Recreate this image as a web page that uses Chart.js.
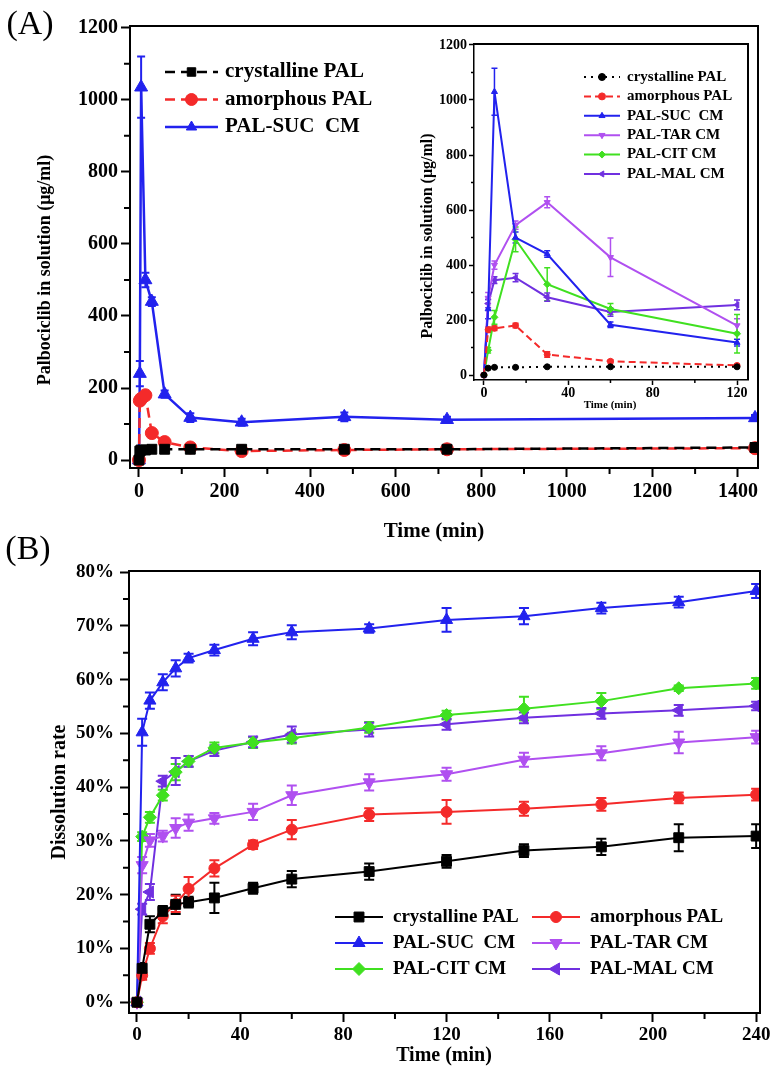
<!DOCTYPE html>
<html>
<head>
<meta charset="utf-8">
<script src="https://cdn.jsdelivr.net/npm/chart.js@4.4.0/dist/chart.umd.min.js"></script>
<style>
  html, body { margin: 0; padding: 0; background: #fff; }
  #wrap { position: relative; width: 774px; height: 1072px; overflow: hidden; }
  canvas { position: absolute; }
</style>
</head>
<body>
<div id="wrap">
  <canvas id="chartA" width="774" height="545" style="left:0;top:0"></canvas>
  <canvas id="inset" width="362" height="400" style="left:395px;top:20px"></canvas>
  <canvas id="chartB" width="774" height="552" style="left:0;top:520px"></canvas>
</div>
<script>
// ---- panel A, long run (ug/ml)
const timeA   = [0, 2, 5, 15, 30, 60, 120, 240, 480, 720, 1440];
const crystA  = [0, 25, 28, 28, 30, 30, 30, 30, 30, 30, 35];
const amorphA = [0, 165, 170, 180, 75, 50, 35, 25, 28, 30, 33];
const sucA    = [0, 240, 1035, 500, 440, 183, 118, 105, 120, 112, 117];
const crystAErr  = [0, 3, 3, 3, 3, 3, 3, 3, 3, 3, 3];
const amorphAErr = [0, 10, 8, 8, 8, 6, 5, 4, 4, 4, 4];
const sucAErr    = [0, 35, 85, 20, 12, 10, 12, 10, 12, 8, 8];
const ticksAx = [0, 200, 400, 600, 800, 1000, 1200, 1400];
const ticksAy = [0, 200, 400, 600, 800, 1000, 1200];

// ---- panel A inset, first 2 h
const timeIn   = [0, 2, 5, 15, 30, 60, 120];
const crystIn  = [0, 25, 28, 28, 30, 30, 30];
const amorphIn = [0, 165, 170, 180, 75, 50, 35];
const sucIn    = [0, 240, 1030, 500, 440, 183, 118];
const tarIn    = [0, 280, 400, 545, 628, 428, 180];
const citIn    = [0, 90, 210, 493, 330, 240, 150];
const malIn    = [0, 260, 345, 354, 283, 229, 255];
const crystInErr  = [0, 2, 2, 2, 2, 2, 2];
const amorphInErr = [0, 10, 8, 8, 10, 6, 4];
const sucInErr    = [0, 35, 85, 20, 12, 10, 12];
const tarInErr    = [0, 20, 15, 15, 20, 70, 25];
const citInErr    = [0, 10, 25, 45, 60, 20, 70];
const malInErr    = [0, 15, 12, 15, 15, 15, 18];
const ticksInX = [0, 40, 80, 120];
const ticksInY = [0, 200, 400, 600, 800, 1000, 1200];

// ---- panel B, dissolution rate (%)
const timeB   = [0, 2, 5, 10, 15, 20, 30, 45, 60, 90, 120, 150, 180, 210, 240];
const crystB  = [0, 6.3, 14.5, 16.9, 18.2, 18.6, 19.4, 21.2, 22.9, 24.3, 26.2, 28.2, 28.9, 30.6, 30.9];
const amorphB = [0, 5, 10, 16, 18.3, 21.1, 24.9, 29.3, 32.1, 34.9, 35.4, 36, 36.8, 38, 38.6];
const sucB    = [0, 50.2, 56.1, 59.5, 62.1, 64, 65.5, 67.6, 68.8, 69.5, 71.1, 71.8, 73.3, 74.4, 76.5];
const tarB    = [0, 25.5, 30.1, 30.9, 32.4, 33.4, 34.2, 35.4, 38.5, 40.9, 42.4, 45.1, 46.3, 48.3, 49.3];
const citB    = [0, 30.8, 34.4, 38.5, 42.8, 44.8, 47.3, 48.3, 49.1, 51.1, 53.4, 54.6, 56, 58.4, 59.3];
const malB    = [0, 17.3, 20.5, 41.1, 42.9, 44.8, 46.8, 48.4, 49.8, 50.7, 51.7, 52.9, 53.7, 54.3, 55.1];
const crystBErr  = [0, 1, 1.5, 1, 1.8, 1, 2.8, 1, 1.5, 1.5, 1.2, 1.2, 1.5, 2.5, 2.2];
const amorphBErr = [0, 0.8, 1, 1.3, 1.5, 2.2, 1.5, 0.8, 1.8, 1.2, 2.2, 1.3, 1.2, 1, 1.1];
const sucBErr    = [0, 2.5, 1.5, 1.5, 1.5, 0.8, 1, 1.2, 1.3, 0.8, 2.2, 1.5, 1, 1, 1.3];
const tarBErr    = [0, 1.5, 1.2, 1, 1.8, 1.5, 1, 1.5, 1.8, 1.5, 1.2, 1.3, 1.3, 2, 1.2];
const citBErr    = [0, 0.8, 1, 1, 1.5, 1, 1, 1, 1, 1, 0.8, 2.2, 1.5, 0.5, 1];
const malBErr    = [0, 1, 1.5, 1, 2.5, 1, 1, 1, 1.5, 1.3, 1, 1, 1, 1, 0.8];
const ticksBx = [0, 40, 80, 120, 160, 200, 240];
const ticksBy = [0, 10, 20, 30, 40, 50, 60, 70, 80];

const BLACK = '#000000', RED = '#f42a2a', BLUE = '#2222ee',
      VIOLET = '#b050f0', GREEN = '#40e020', PURPLE = '#7030e0';
const FONT = 'Liberation Serif';

Chart.defaults.font.family = FONT;
Chart.defaults.font.weight = 'bold';
Chart.defaults.color = '#000';

function series(label, xs, ys, errs, color, style, extra) {
  return Object.assign({
    label: label,
    data: xs.map((x, i) => ({ x: x, y: ys[i] })),
    errors: errs,
    borderColor: color, backgroundColor: color,
    pointBackgroundColor: color, pointBorderColor: color, pointBorderWidth: 1,
    pointStyle: style, showLine: true, fill: false, tension: 0
  }, extra);
}

// error bars, drawn under the markers
const errorBars = {
  id: 'errorBars',
  beforeDatasetsDraw(chart, args, o) {
    const { ctx, chartArea: a } = chart;
    const xs = chart.scales.x, ys = chart.scales.y;
    ctx.save();
    ctx.beginPath();
    ctx.rect(a.left, a.top, a.right - a.left, a.bottom - a.top);
    ctx.clip();
    chart.data.datasets.forEach(ds => {
      if (!ds.errors) return;
      ctx.strokeStyle = ds.borderColor;
      ctx.lineWidth = o.width;
      ctx.setLineDash([]);
      ds.data.forEach((p, i) => {
        const e = ds.errors[i];
        if (!e) return;
        const x = xs.getPixelForValue(p.x);
        const y1 = ys.getPixelForValue(p.y - e), y2 = ys.getPixelForValue(p.y + e);
        ctx.beginPath();
        ctx.moveTo(x, y1); ctx.lineTo(x, y2);
        ctx.moveTo(x - o.cap, y1); ctx.lineTo(x + o.cap, y1);
        ctx.moveTo(x - o.cap, y2); ctx.lineTo(x + o.cap, y2);
        ctx.stroke();
      });
    });
    ctx.restore();
  }
};

// top/right frame lines and minor ticks
const frame = {
  id: 'frame',
  afterDraw(chart, args, o) {
    const { ctx, chartArea: a } = chart;
    const xs = chart.scales.x, ys = chart.scales.y;
    ctx.save();
    ctx.strokeStyle = '#000';
    ctx.lineWidth = o.width;
    ctx.beginPath();
    ctx.moveTo(a.left, a.top); ctx.lineTo(a.right, a.top); ctx.lineTo(a.right, a.bottom);
    ctx.stroke();
    ctx.lineWidth = o.tickWidth;
    ctx.beginPath();
    for (let v = Math.ceil(xs.min / o.xMinor) * o.xMinor; v <= xs.max; v += o.xMinor) {
      if (Math.abs(v % o.xMajor) < 1e-6) continue;
      const x = xs.getPixelForValue(v);
      ctx.moveTo(x, a.bottom); ctx.lineTo(x, a.bottom + o.len);
    }
    for (let v = Math.ceil(ys.min / o.yMinor) * o.yMinor; v <= ys.max; v += o.yMinor) {
      if (Math.abs(v % o.yMajor) < 1e-6) continue;
      const y = ys.getPixelForValue(v);
      ctx.moveTo(a.left, y); ctx.lineTo(a.left - o.len, y);
    }
    ctx.stroke();
    ctx.restore();
  }
};

// legend drawn inside the plot
const legendBox = {
  id: 'legendBox',
  afterDraw(chart, args, o) {
    const ctx = chart.ctx;
    ctx.save();
    ctx.font = o.font;
    ctx.textBaseline = 'middle';
    ctx.textAlign = 'left';
    chart.data.datasets.forEach((ds, i) => {
      const col = i % o.cols, row = Math.floor(i / o.cols);
      const x = o.x + col * o.colGap, y = o.y + row * o.rowGap;
      ctx.strokeStyle = ds.borderColor;
      ctx.fillStyle = ds.borderColor;
      ctx.lineWidth = ds.borderWidth;
      ctx.setLineDash(ds.borderDash || []);
      ctx.beginPath(); ctx.moveTo(x, y); ctx.lineTo(x + o.len, y); ctx.stroke();
      ctx.setLineDash([]);
      ctx.lineWidth = 1;
      Chart.helpers.drawPoint(ctx, {
        pointStyle: ds.pointStyle, rotation: ds.pointRotation || 0,
        radius: o.radius || ds.pointRadius, borderWidth: 1
      }, x + o.len / 2, y);
      ctx.fillStyle = '#000';
      ctx.fillText(ds.label, x + o.len + o.gap, y);
    });
    ctx.restore();
  }
};

// free texts: panel letters, axis titles
const texts = {
  id: 'texts',
  afterDraw(chart, args, o) {
    const ctx = chart.ctx;
    o.items.forEach(t => {
      ctx.save();
      ctx.font = t.font;
      ctx.fillStyle = '#000';
      ctx.textAlign = 'center';
      ctx.textBaseline = 'middle';
      ctx.translate(t.x, t.y);
      if (t.rot) ctx.rotate(t.rot * Math.PI / 180);
      ctx.fillText(t.text, 0, 0);
      ctx.restore();
    });
  }
};

function linAxis(min, max, tickVals, size, fontSize, pad, tickLen, lw, fmt) {
  return {
    type: 'linear', min: min, max: max,
    afterBuildTicks: s => { s.ticks = tickVals.map(v => ({ value: v })); },
    afterFit: s => {
      if (s.isHorizontal()) s.height = size; else s.width = size;
      s.paddingLeft = s.paddingRight = s.paddingTop = s.paddingBottom = 0;
    },
    ticks: {
      font: { size: fontSize, weight: 'bold', family: FONT }, color: '#000',
      padding: pad, autoSkip: false, maxRotation: 0,
      callback: v => fmt ? fmt(v) : String(v)
    },
    grid: { drawOnChartArea: false, drawTicks: true, tickLength: tickLen, tickWidth: lw, tickColor: '#000' },
    border: { display: true, color: '#000', width: lw }
  };
}

// ---------------- panel A main
new Chart(document.getElementById('chartA'), {
  type: 'line',
  data: {
    datasets: [
      series('crystalline PAL', timeA, crystA, crystAErr, BLACK, 'rect', { borderWidth: 2.5, borderDash: [10, 6], pointRadius: 7 }),
      series('amorphous PAL', timeA, amorphA, amorphAErr, RED, 'circle', { borderWidth: 2.5, borderDash: [10, 6], pointRadius: 6.5 }),
      series('PAL-SUC  CM', timeA, sucA, sucAErr, BLUE, 'triangle', { borderWidth: 2.5, pointRadius: 7.5 })
    ]
  },
  options: {
    responsive: false, animation: false,
    layout: { padding: { top: 26, right: 16, left: 0, bottom: 0 } },
    scales: {
      x: linAxis(-21, 1447, ticksAx, 77, 20, 3, 9, 2),
      y: linAxis(-22, 1205, ticksAy, 130, 20, 3, 9, 2)
    },
    plugins: {
      legend: { display: false }, tooltip: { enabled: false },
      errorBars: { width: 2, cap: 4 },
      frame: { width: 2, tickWidth: 2, len: 6, xMinor: 100, xMajor: 200, yMinor: 100, yMajor: 200 },
      legendBox: { x: 165, y: 72, rowGap: 27.5, colGap: 0, cols: 1, len: 53, gap: 7, radius: 6, font: 'bold 21px ' + FONT },
      texts: { items: [
        { text: '(A)', x: 30, y: 25, font: '34px ' + FONT },
        { text: 'Time (min)', x: 434, y: 532, font: 'bold 21px ' + FONT },
        { text: 'Palbociclib in solution (μg/ml)', x: 45, y: 270, rot: -90, font: 'bold 18px ' + FONT }
      ] }
    }
  },
  plugins: [errorBars, frame, legendBox, texts]
});

// ---------------- panel A inset
new Chart(document.getElementById('inset'), {
  type: 'line',
  data: {
    datasets: [
      series('crystalline PAL', timeIn, crystIn, crystInErr, BLACK, 'circle', { borderWidth: 2, borderDash: [2, 5], pointRadius: 3 }),
      series('amorphous PAL', timeIn, amorphIn, amorphInErr, RED, 'circle', { borderWidth: 2, borderDash: [7, 4], pointRadius: 3 }),
      series('PAL-SUC  CM', timeIn, sucIn, sucInErr, BLUE, 'triangle', { borderWidth: 2, pointRadius: 3.5 }),
      series('PAL-TAR CM', timeIn, tarIn, tarInErr, VIOLET, 'triangle', { borderWidth: 2, pointRadius: 3.5, pointRotation: 180 }),
      series('PAL-CIT CM', timeIn, citIn, citInErr, GREEN, 'rectRot', { borderWidth: 2, pointRadius: 3.5 }),
      series('PAL-MAL CM', timeIn, malIn, malInErr, PURPLE, 'triangle', { borderWidth: 2, pointRadius: 3.5, pointRotation: -90 })
    ]
  },
  options: {
    responsive: false, animation: false,
    layout: { padding: { top: 24, right: 9, left: 0, bottom: 0 } },
    scales: {
      x: linAxis(-4.7, 125.2, ticksInX, 40, 14, 0, 5, 1.5),
      y: linAxis(-18, 1203.6, ticksInY, 79, 14, 2, 5, 1.5)
    },
    plugins: {
      legend: { display: false }, tooltip: { enabled: false },
      errorBars: { width: 1.5, cap: 3 },
      frame: { width: 2, tickWidth: 1.5, len: 3, xMinor: 20, xMajor: 40, yMinor: 100, yMajor: 200 },
      legendBox: { x: 189, y: 57, rowGap: 19.4, colGap: 0, cols: 1, len: 36, gap: 7, radius: 3.5, font: 'bold 15px ' + FONT },
      texts: { items: [
        { text: 'Time (min)', x: 215, y: 385, font: 'bold 11px ' + FONT },
        { text: 'Palbociclib in solution (μg/ml)', x: 33, y: 216, rot: -90, font: 'bold 16px ' + FONT }
      ] }
    }
  },
  plugins: [errorBars, frame, legendBox, texts]
});

// ---------------- panel B
new Chart(document.getElementById('chartB'), {
  type: 'line',
  data: {
    datasets: [
      series('crystalline PAL', timeB, crystB, crystBErr, BLACK, 'rect', { borderWidth: 2, pointRadius: 7 }),
      series('amorphous PAL', timeB, amorphB, amorphBErr, RED, 'circle', { borderWidth: 2, pointRadius: 5.5 }),
      series('PAL-SUC  CM', timeB, sucB, sucBErr, BLUE, 'triangle', { borderWidth: 2, pointRadius: 7 }),
      series('PAL-TAR CM', timeB, tarB, tarBErr, VIOLET, 'triangle', { borderWidth: 2, pointRadius: 7, pointRotation: 180 }),
      series('PAL-CIT CM', timeB, citB, citBErr, GREEN, 'rectRot', { borderWidth: 2, pointRadius: 6.5 }),
      series('PAL-MAL CM', timeB, malB, malBErr, PURPLE, 'triangle', { borderWidth: 2, pointRadius: 7, pointRotation: -90 })
    ]
  },
  options: {
    responsive: false, animation: false,
    layout: { padding: { top: 51, right: 14, left: 0, bottom: 0 } },
    scales: {
      x: linAxis(-3.1, 241.5, ticksBx, 59, 19, 2, 9, 2),
      y: linAxis(-2, 80.2, ticksBy, 129, 19, 6, 9, 2, v => v + '%')
    },
    plugins: {
      legend: { display: false }, tooltip: { enabled: false },
      errorBars: { width: 2, cap: 5 },
      frame: { width: 2, tickWidth: 2, len: 6, xMinor: 20, xMajor: 40, yMinor: 5, yMajor: 10 },
      legendBox: { x: 335, y: 397, rowGap: 26, colGap: 197, cols: 2, len: 48, gap: 10, font: 'bold 19px ' + FONT },
      texts: { items: [
        { text: '(B)', x: 28, y: 30, font: '34px ' + FONT },
        { text: 'Time (min)', x: 444, y: 536, font: 'bold 20px ' + FONT },
        { text: 'Dissolution rate', x: 60, y: 272, rot: -90, font: 'bold 20px ' + FONT }
      ] }
    }
  },
  plugins: [errorBars, frame, legendBox, texts]
});
</script>
</body>
</html>
